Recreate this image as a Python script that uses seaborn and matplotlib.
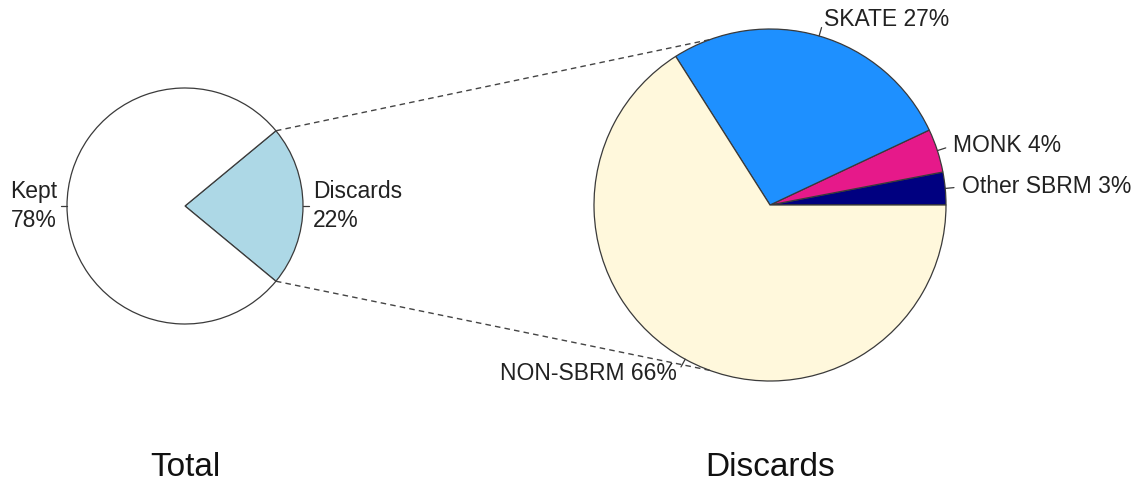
import numpy as np
import matplotlib
matplotlib.use("Agg")
import matplotlib.pyplot as plt
import seaborn as sns

# ---- data ----
total_labels = ["Discards", "Kept"]
total_values = [22, 78]
total_colors = ["#ADD8E6", "#FFFFFF"]

disc_labels = ["Other SBRM", "MONK", "SKATE", "NON-SBRM"]
disc_values = [3, 4, 27, 66]
disc_colors = ["#000080", "#E6198A", "#1E90FF", "#FFF8DC"]

titles = ["Total", "Discards"]

sns.set_theme(style="white")
plt.rcParams["font.family"] = ["Liberation Sans", "DejaVu Sans"]

W, H = 1134, 484
fig = plt.figure(figsize=(W / 100, H / 100), dpi=100)
ax = fig.add_axes([0, 0, 1, 1])

c1, r1 = (185, H - 206), 118
c2, r2 = (770, H - 205), 176
edge = "#3a3a3a"

start1 = -total_values[0] / sum(total_values) * 360 / 2
ax.pie(total_values, colors=total_colors, startangle=start1, counterclock=True,
       center=c1, radius=r1, frame=True,
       wedgeprops=dict(edgecolor=edge, linewidth=0.9))
ax.pie(disc_values, colors=disc_colors, startangle=0, counterclock=True,
       center=c2, radius=r2, frame=True,
       wedgeprops=dict(edgecolor=edge, linewidth=0.9))


def add_labels(values, labels, start, center, r, sep, off):
    tot = sum(values)
    cum = 0
    for v, lab in zip(values, labels):
        mid = np.deg2rad(start + (cum + v / 2) / tot * 360)
        cum += v
        cx, cy = np.cos(mid), np.sin(mid)
        ax.plot([center[0] + r * cx, center[0] + 1.05 * r * cx],
                [center[1] + r * cy, center[1] + 1.05 * r * cy],
                color=edge, lw=0.9)
        ha = "left" if cx >= 0 else "right"
        ax.text(center[0] + (1.05 * r + off) * cx, center[1] + (1.05 * r + off) * cy,
                f"{lab}{sep}{v}%", ha=ha, va="center", fontsize=16.5,
                color="#222222", linespacing=1.3)


add_labels(total_values, total_labels, start1, c1, r1, "\n", 4)
add_labels(disc_values, disc_labels, 0, c2, r2, " ", 8)

# connecting dashed lines
a_top = np.deg2rad(start1 + 360 * total_values[0] / sum(total_values))
a_bot = np.deg2rad(start1)
for a_src, a_dst in [(a_top, np.deg2rad(110)), (a_bot, np.deg2rad(250))]:
    ax.plot([c1[0] + r1 * np.cos(a_src), c2[0] + r2 * np.cos(a_dst)],
            [c1[1] + r1 * np.sin(a_src), c2[1] + r2 * np.sin(a_dst)],
            color="#444444", lw=1.0, ls=(0, (4, 3)))

ax.text(c1[0], H - 467, titles[0], ha="center", va="center", fontsize=24, color="#111111")
ax.text(c2[0], H - 467, titles[1], ha="center", va="center", fontsize=24, color="#111111")

ax.set_xlim(0, W)
ax.set_ylim(0, H)
ax.set_aspect("equal")
ax.axis("off")
fig.savefig("out.png", dpi=100, facecolor="white")
